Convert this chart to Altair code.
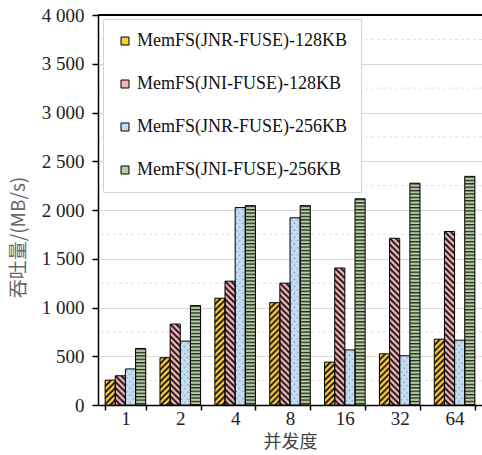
import altair as alt
import pandas as pd
from urllib.parse import quote

# ---------------- data ----------------
categories = ["1", "2", "4", "8", "16", "32", "64"]
series = [
    "MemFS(JNR-FUSE)-128KB",
    "MemFS(JNI-FUSE)-128KB",
    "MemFS(JNR-FUSE)-256KB",
    "MemFS(JNI-FUSE)-256KB",
]
jnr_128 = [255, 485, 1095, 1050, 440, 525, 675]
jni_128 = [300, 830, 1270, 1250, 1405, 1710, 1780]
jnr_256 = [370, 655, 2025, 1920, 565, 505, 665]
jni_256 = [580, 1020, 2045, 2045, 2115, 2275, 2345]
y_ticks = [0, 500, 1000, 1500, 2000, 2500, 3000, 3500, 4000]
minor_grid = [250, 750, 1250, 1750, 2250, 2750, 3250, 3750]

# ---------------- styles ----------------
base_colors = ["#FFCB3D", "#F6B2B6", "#C4DCF2", "#B4CF9F"]


def svg_url(w, h, body):
    s = (
        "<svg xmlns='http://www.w3.org/2000/svg' width='100%' height='100%'>"
        f"<defs><pattern id='p' patternUnits='userSpaceOnUse' width='{w}' height='{h}'>{body}</pattern></defs>"
        "<rect width='100%' height='100%' fill='url(#p)'/></svg>"
    )
    return "data:image/svg+xml;charset=utf-8," + quote(s)


patterns = {
    series[0]: svg_url(
        6, 6,
        f"<rect width='6' height='6' fill='{base_colors[0]}'/>"
        "<path d='M0,6 L6,0 M-1,1 L1,-1 M5,7 L7,5' stroke='#111' stroke-width='1.9'/>",
    ),
    series[1]: svg_url(
        6, 6,
        f"<rect width='6' height='6' fill='{base_colors[1]}'/>"
        "<path d='M0,0 L6,6 M-1,5 L1,7 M5,-1 L7,1' stroke='#111' stroke-width='1.9'/>",
    ),
    series[2]: svg_url(
        6, 7,
        f"<rect width='6' height='7' fill='{base_colors[2]}'/>"
        "<circle cx='1.5' cy='2' r='0.6' fill='#5b7591'/>"
        "<circle cx='4.5' cy='5.5' r='0.6' fill='#5b7591'/>",
    ),
    series[3]: svg_url(
        4, 3.4,
        f"<rect width='4' height='3.4' fill='{base_colors[3]}'/>"
        "<rect y='0' width='4' height='1.3' fill='#222'/>",
    ),
}

rows = []
for s, vals in zip(series, [jnr_128, jni_128, jnr_256, jni_256]):
    for c, v in zip(categories, vals):
        rows.append({"cat": c, "series": s, "value": v, "img": patterns[s]})
df = pd.DataFrame(rows)

W, H = 384, 390
SERIF = "Liberation Serif, 'Times New Roman', Times, 'DejaVu Serif', serif"
CJK = "'Noto Sans CJK SC', 'Noto Sans CJK JP', sans-serif"

x_enc = alt.X(
    "cat:N",
    sort=categories,
    scale=alt.Scale(paddingInner=0.26, paddingOuter=0.13),
    axis=alt.Axis(
        title="并发度",
        labelAngle=0,
        tickBand="extent",
        grid=False,
        domainColor="black",
        domainWidth=1.5,
        tickColor="black",
        tickSize=5,
        tickWidth=1.5,
        labelFont=SERIF,
        labelFontSize=19,
        labelColor="#222",
        labelPadding=-1,
        titleFont=CJK,
        titleFontSize=18,
        titleFontWeight="normal",
        titleColor="#444",
        titlePadding=5,
    ),
)
xoff = alt.XOffset("series:N", sort=series, scale=alt.Scale(paddingInner=0))
y_enc = alt.Y(
    "value:Q",
    scale=alt.Scale(domain=[0, 4000], nice=False),
    axis=alt.Axis(
        values=y_ticks,
        labelExpr="replace(format(datum.value, ','), ',', ' ')",
        grid=True,
        gridColor="#d9d9d9",
        gridWidth=1,
        domainColor="black",
        domainWidth=1.5,
        tickColor="black",
        tickSize=6,
        tickWidth=1.5,
        labelFont=SERIF,
        labelFontSize=19,
        labelColor="#222",
        labelPadding=8,
        title="吞吐量/(MB/s)",
        titleFont=CJK,
        titleFontSize=19,
        titleFontWeight="normal",
        titleColor="#666",
        titleX=-70,
        titleY=222,
    ),
)

minor = (
    alt.Chart(pd.DataFrame({"v": minor_grid}))
    .mark_rule(color="#e2e2e2", strokeDash=[3, 3], strokeWidth=1)
    .encode(y=alt.Y("v:Q"))
)

bars = (
    alt.Chart(df)
    .mark_bar()
    .encode(
        x=x_enc,
        xOffset=xoff,
        y=y_enc,
        color=alt.Color(
            "series:N",
            sort=series,
            scale=alt.Scale(domain=series, range=base_colors),
            legend=alt.Legend(
                orient="none",
                legendX=5,
                legendY=4,
                title=None,
                fillColor="white",
                strokeColor="#d4d4d4",
                padding=13,
                rowPadding=25,
                symbolType="square",
                symbolSize=64,
                symbolStrokeColor="black",
                symbolStrokeWidth=1,
                symbolOpacity=1,
                labelFont=SERIF,
                labelFontSize=18,
                labelColor="#111",
                labelOffset=3,
                labelLimit=400,
            ),
        ),
    )
)

images = (
    alt.Chart(df)
    .mark_image(aspect=False)
    .encode(
        x=alt.X("cat:N", sort=categories),
        xOffset=xoff,
        y=alt.Y("value:Q"),
        y2=alt.datum(0),
        url=alt.Url("img:N"),
    )
)

outline = (
    alt.Chart(df)
    .mark_bar(fillOpacity=0, stroke="black", strokeWidth=1)
    .encode(x=alt.X("cat:N", sort=categories), xOffset=xoff, y=alt.Y("value:Q"))
)

top = (
    alt.Chart(pd.DataFrame({"a": [0]}))
    .mark_rule(color="black", strokeWidth=2)
    .encode(x=alt.value(0), x2=alt.value(W), y=alt.value(0))
)

chart = (
    alt.layer(minor, bars, images, outline, top)
    .properties(
        width=W,
        height=H,
        autosize=alt.AutoSizeParams(type="none"),
        padding={"left": 98, "top": 15, "right": 0, "bottom": 50},
        background="white",
    )
    .configure_view(stroke=None)
)

chart.save("out.html", embed_options={"renderer": "svg", "actions": False})
